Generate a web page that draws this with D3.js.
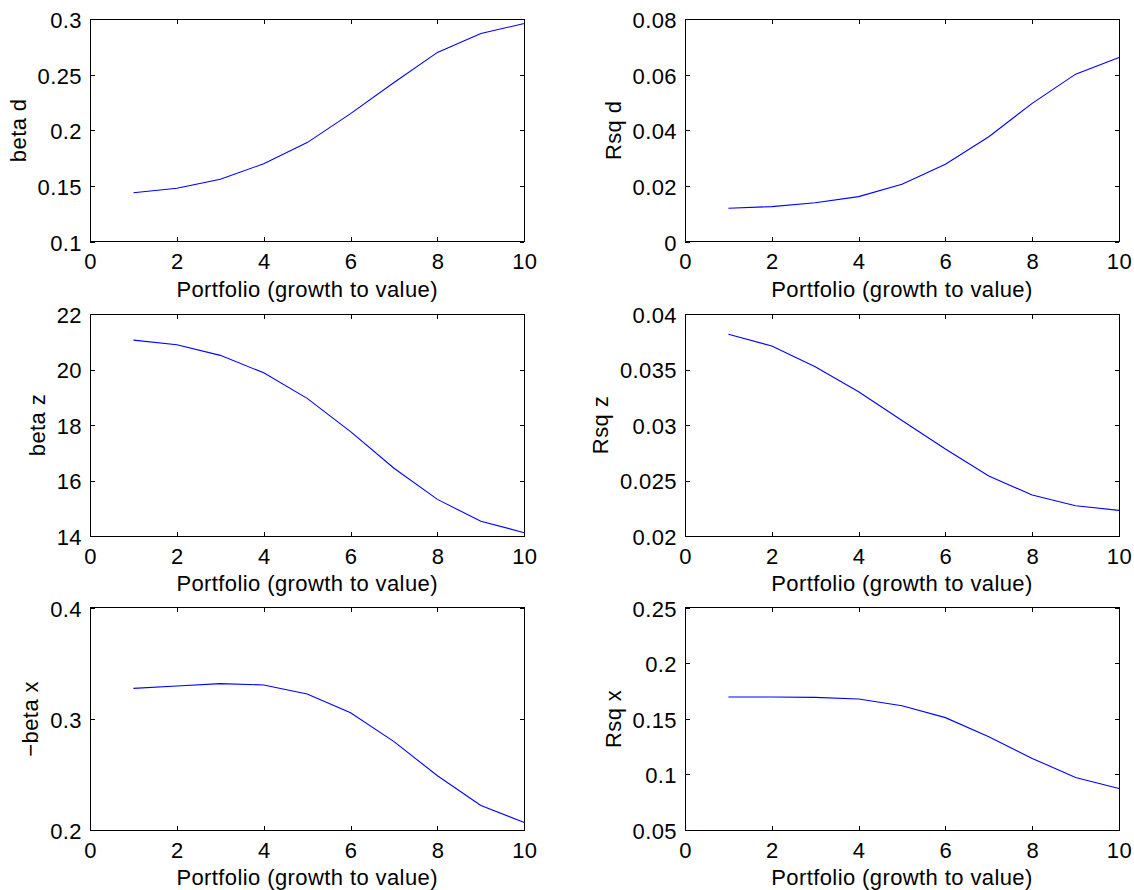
<!DOCTYPE html>
<html>
<head>
<meta charset="utf-8">
<script src="https://cdn.jsdelivr.net/npm/d3@7/dist/d3.min.js"></script>
<style>
  html, body { margin: 0; padding: 0; background: #fff; }
  svg { display: block; font-family: "Liberation Sans", Arial, Helvetica, sans-serif; }
</style>
</head>
<body>
<svg id="chart" width="1134" height="890"></svg>
<script>
// ---- data ----
const portfolios = [1, 2, 3, 4, 5, 6, 7, 8, 9, 10];
const xTicks = [0, 2, 4, 6, 8, 10];
const xLabel = "Portfolio (growth to value)";

const betaD    = [0.144, 0.148, 0.156, 0.170, 0.189, 0.215, 0.243, 0.270, 0.287, 0.296];
const rsqD     = [0.0120, 0.0126, 0.0140, 0.0162, 0.0206, 0.0278, 0.0377, 0.0497, 0.0602, 0.0662];
const betaZ    = [21.06, 20.89, 20.51, 19.88, 18.96, 17.76, 16.44, 15.32, 14.53, 14.12];
const rsqZ     = [0.03817, 0.03712, 0.03525, 0.0330, 0.0304, 0.02784, 0.02541, 0.02369, 0.02273, 0.02231];
const negBetaX = [0.3274, 0.3296, 0.3317, 0.3305, 0.3224, 0.3055, 0.2795, 0.2488, 0.2220, 0.2068];
const rsqX     = [0.1696, 0.1697, 0.1693, 0.1678, 0.1618, 0.1511, 0.1339, 0.1144, 0.0973, 0.0874];

const yTicksBetaD    = [0.1, 0.15, 0.2, 0.25, 0.3];
const yTicksRsqD     = [0, 0.02, 0.04, 0.06, 0.08];
const yTicksBetaZ    = [14, 16, 18, 20, 22];
const yTicksRsqZ     = [0.02, 0.025, 0.03, 0.035, 0.04];
const yTicksNegBetaX = [0.2, 0.3, 0.4];
const yTicksRsqX     = [0.05, 0.1, 0.15, 0.2, 0.25];

const yLabels = ["beta d", "Rsq d", "beta z", "Rsq z", "\u2212beta x", "Rsq x"];

const panels = [
  { values: betaD,    yTicks: yTicksBetaD,    label: yLabels[0] },
  { values: rsqD,     yTicks: yTicksRsqD,     label: yLabels[1] },
  { values: betaZ,    yTicks: yTicksBetaZ,    label: yLabels[2] },
  { values: rsqZ,     yTicks: yTicksRsqZ,     label: yLabels[3] },
  { values: negBetaX, yTicks: yTicksNegBetaX, label: yLabels[4] },
  { values: rsqX,     yTicks: yTicksRsqX,     label: yLabels[5] }
];

// ---- layout ----
const colX = [[90, 524.3], [685, 1119]];
const rowY = [[19, 241.7], [314, 536], [607.7, 830]];
const FONT = 22;
const LS = "0.4px";
const TICK = 4.5;

const svg = d3.select("#chart");
const fmt = d3.format("~g");

panels.forEach((p, i) => {
  const c = i % 2, r = Math.floor(i / 2);
  const [x0, x1] = colX[c];
  const [y0, y1] = rowY[r];
  const x = d3.scaleLinear().domain([0, 10]).range([x0, x1]);
  const ext = d3.extent(p.yTicks);
  const y = d3.scaleLinear().domain(ext).range([y1, y0]);

  const g = svg.append("g");

  const gb = g.append("g").attr("transform", `translate(0,${y1})`)
    .call(d3.axisBottom(x).tickValues(xTicks).tickFormat(fmt)
      .tickSizeInner(-TICK).tickSizeOuter(0).tickPadding(12));
  const gt = g.append("g").attr("transform", `translate(0,${y0})`)
    .call(d3.axisTop(x).tickValues(xTicks).tickFormat("")
      .tickSizeInner(-TICK).tickSizeOuter(0));
  const gl = g.append("g").attr("transform", `translate(${x0},0)`)
    .call(d3.axisLeft(y).tickValues(p.yTicks).tickFormat(fmt)
      .tickSizeInner(-TICK).tickSizeOuter(0).tickPadding(8));
  const gr = g.append("g").attr("transform", `translate(${x1},0)`)
    .call(d3.axisRight(y).tickValues(p.yTicks).tickFormat("")
      .tickSizeInner(-TICK).tickSizeOuter(0));

  [gb, gt, gl, gr].forEach(a => {
    a.select(".domain").remove();
    a.selectAll("line").attr("stroke", "#000").attr("stroke-width", 1).attr("shape-rendering", "crispEdges");
    a.selectAll("text").attr("fill", "#000").attr("font-size", FONT).attr("letter-spacing", LS)
      .attr("font-family", '"Liberation Sans", Arial, Helvetica, sans-serif');
  });
  gl.selectAll("text").attr("dy", "0.38em");

  g.append("rect")
    .attr("x", x0).attr("y", y0).attr("width", x1 - x0).attr("height", y1 - y0)
    .attr("fill", "none").attr("stroke", "#000").attr("stroke-width", 1)
    .attr("shape-rendering", "crispEdges");

  const line = d3.line().x((d, k) => x(portfolios[k])).y(d => y(d));
  g.append("path").datum(p.values)
    .attr("d", line)
    .attr("fill", "none").attr("stroke", "#0000ff").attr("stroke-width", 1.1);

  g.append("text")
    .attr("x", (x0 + x1) / 2).attr("y", y1 + 55)
    .attr("text-anchor", "middle").attr("font-size", FONT).attr("letter-spacing", LS).attr("fill", "#000")
    .text(xLabel);

  let maxW = 0;
  gl.selectAll("text").each(function () { maxW = Math.max(maxW, this.getBBox().width); });
  const off = maxW + 8 + 12;
  g.append("text")
    .attr("transform", `translate(${x0 - off},${(y0 + y1) / 2}) rotate(-90)`)
    .attr("text-anchor", "middle").attr("font-size", FONT).attr("letter-spacing", LS).attr("fill", "#000")
    .text(p.label);
});
</script>
</body>
</html>
